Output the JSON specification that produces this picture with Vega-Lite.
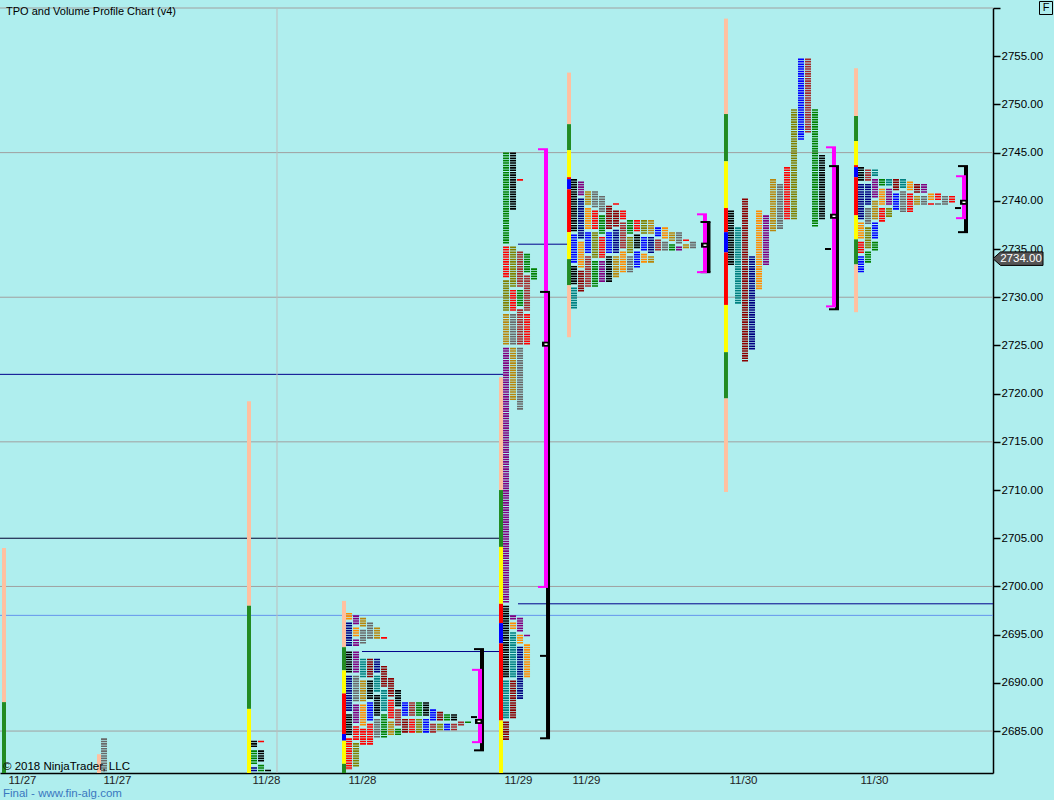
{
"$schema": "https://vega.github.io/schema/vega-lite/v6.json",
"width": 993, "height": 765,
"autosize": {"type": "none"},
"padding": {"left": 0, "top": 8, "right": 61, "bottom": 27},
"background": "#AFEEEE",
"config": {"view": {"stroke": null, "fill": "#AFEEEE"}, "font": "Liberation Sans"},
"datasets": {
"hlines": [
{"x": 0, "x2": 141.857, "hi": 2760, "k": "grid"},
{"x": 0, "x2": 141.857, "hi": 2745, "k": "grid"},
{"x": 0, "x2": 141.857, "hi": 2730, "k": "grid"},
{"x": 0, "x2": 141.857, "hi": 2715, "k": "grid"},
{"x": 0, "x2": 141.857, "hi": 2700, "k": "grid"},
{"x": 0, "x2": 141.857, "hi": 2685, "k": "grid"},
{"x": 0, "x2": 141.857, "hi": 2697.0, "k": "ref"},
{"x": 0, "x2": 71.86, "hi": 2722.0, "k": "navy"},
{"x": 0, "x2": 71.86, "hi": 2705.0, "k": "dark"},
{"x": 74.0, "x2": 141.857, "hi": 2698.2, "k": "navy"},
{"x": 74.0, "x2": 81.43, "hi": 2735.5, "k": "navy"},
{"x": 51.71, "x2": 71.71, "hi": 2693.25, "k": "navy"}
],
"vlines": [{"x": 39.57, "hi": 2760, "lo": 2680.65, "k": "vgrid"}],
"sess": [
{"x": 0.57, "hi": 2704.0, "lo": 2688.0, "k": "tail"},
{"x": 0.57, "hi": 2688.0, "lo": 2680.65, "k": "ib"},
{"x": 14.14, "hi": 2682.6, "lo": 2680.65, "k": "tail"},
{"x": 35.57, "hi": 2719.2, "lo": 2698.0, "k": "tail"},
{"x": 35.57, "hi": 2698.0, "lo": 2687.3, "k": "ib"},
{"x": 35.57, "hi": 2687.3, "lo": 2680.65, "k": "ext"},
{"x": 49.14, "hi": 2698.5, "lo": 2693.7, "k": "tail"},
{"x": 49.14, "hi": 2693.7, "lo": 2691.3, "k": "ib"},
{"x": 49.14, "hi": 2691.3, "lo": 2688.9, "k": "ext"},
{"x": 49.14, "hi": 2688.9, "lo": 2684.7, "k": "va"},
{"x": 49.14, "hi": 2684.7, "lo": 2684.0, "k": "poc"},
{"x": 49.14, "hi": 2684.0, "lo": 2681.6, "k": "ext"},
{"x": 49.14, "hi": 2681.6, "lo": 2680.65, "k": "ib"},
{"x": 71.57, "hi": 2721.7, "lo": 2710.0, "k": "tail"},
{"x": 71.57, "hi": 2710.0, "lo": 2704.1, "k": "ib"},
{"x": 71.57, "hi": 2704.1, "lo": 2698.2, "k": "ext"},
{"x": 71.57, "hi": 2698.2, "lo": 2696.2, "k": "va"},
{"x": 71.57, "hi": 2696.2, "lo": 2694.1, "k": "poc"},
{"x": 71.57, "hi": 2694.1, "lo": 2686.1, "k": "va"},
{"x": 71.57, "hi": 2686.1, "lo": 2680.65, "k": "ext"},
{"x": 81.29, "hi": 2753.3, "lo": 2747.95, "k": "tail"},
{"x": 81.29, "hi": 2747.95, "lo": 2745.25, "k": "ib"},
{"x": 81.29, "hi": 2745.25, "lo": 2742.45, "k": "ext"},
{"x": 81.29, "hi": 2742.45, "lo": 2742.25, "k": "va"},
{"x": 81.29, "hi": 2742.25, "lo": 2741.2, "k": "poc"},
{"x": 81.29, "hi": 2741.2, "lo": 2736.75, "k": "va"},
{"x": 81.29, "hi": 2736.75, "lo": 2733.95, "k": "ext"},
{"x": 81.29, "hi": 2733.95, "lo": 2731.25, "k": "ib"},
{"x": 81.29, "hi": 2731.25, "lo": 2725.85, "k": "tail"},
{"x": 103.71, "hi": 2758.9, "lo": 2749.0, "k": "tail"},
{"x": 103.71, "hi": 2749.0, "lo": 2744.1, "k": "ib"},
{"x": 103.71, "hi": 2744.1, "lo": 2739.25, "k": "ext"},
{"x": 103.71, "hi": 2739.25, "lo": 2736.75, "k": "va"},
{"x": 103.71, "hi": 2736.75, "lo": 2734.65, "k": "poc"},
{"x": 103.71, "hi": 2734.65, "lo": 2729.2, "k": "va"},
{"x": 103.71, "hi": 2729.2, "lo": 2724.3, "k": "ext"},
{"x": 103.71, "hi": 2724.3, "lo": 2719.5, "k": "ib"},
{"x": 103.71, "hi": 2719.5, "lo": 2709.8, "k": "tail"},
{"x": 122.29, "hi": 2753.75, "lo": 2748.8, "k": "tail"},
{"x": 122.29, "hi": 2748.8, "lo": 2746.2, "k": "ib"},
{"x": 122.29, "hi": 2746.2, "lo": 2743.7, "k": "ext"},
{"x": 122.29, "hi": 2743.7, "lo": 2743.5, "k": "va"},
{"x": 122.29, "hi": 2743.5, "lo": 2742.45, "k": "poc"},
{"x": 122.29, "hi": 2742.45, "lo": 2738.5, "k": "va"},
{"x": 122.29, "hi": 2738.5, "lo": 2736.0, "k": "ext"},
{"x": 122.29, "hi": 2736.0, "lo": 2733.4, "k": "ib"},
{"x": 122.29, "hi": 2733.4, "lo": 2728.45, "k": "tail"}
],
"tpo": [
{"x": 14.86, "hi": 2684.25, "lo": 2680.75, "k": "G"},
{"x": 36.29, "hi": 2684.0, "lo": 2683.25, "k": "B"},
{"x": 36.29, "hi": 2683.0, "lo": 2681.5, "k": "M"},
{"x": 36.29, "hi": 2681.25, "lo": 2680.75, "k": "A"},
{"x": 37.29, "hi": 2684.0, "lo": 2683.75, "k": "J"},
{"x": 37.29, "hi": 2683.0, "lo": 2681.75, "k": "B"},
{"x": 37.29, "hi": 2681.5, "lo": 2680.75, "k": "M"},
{"x": 38.29, "hi": 2681.0, "lo": 2680.75, "k": "B"},

{"x": 49.86, "hi": 2697.25, "lo": 2696.5, "k": "C"},
{"x": 49.86, "hi": 2696.25, "lo": 2693.75, "k": "A"},
{"x": 49.86, "hi": 2693.25, "lo": 2691.0, "k": "B"},
{"x": 49.86, "hi": 2690.75, "lo": 2687.0, "k": "A"},
{"x": 49.86, "hi": 2686.75, "lo": 2684.5, "k": "B"},
{"x": 49.86, "hi": 2684.25, "lo": 2681.0, "k": "J"},
{"x": 50.86, "hi": 2697.0, "lo": 2696.0, "k": "D"},
{"x": 50.86, "hi": 2695.75, "lo": 2694.75, "k": "C"},
{"x": 50.86, "hi": 2694.5, "lo": 2693.75, "k": "D"},
{"x": 50.86, "hi": 2693.25, "lo": 2691.0, "k": "D"},
{"x": 50.86, "hi": 2690.75, "lo": 2688.0, "k": "G"},
{"x": 50.86, "hi": 2687.75, "lo": 2685.75, "k": "D"},
{"x": 50.86, "hi": 2685.5, "lo": 2684.0, "k": "J"},
{"x": 50.86, "hi": 2683.75, "lo": 2681.25, "k": "H"},
{"x": 51.86, "hi": 2696.75, "lo": 2695.75, "k": "I"},
{"x": 51.86, "hi": 2695.5, "lo": 2694.0, "k": "G"},
{"x": 51.86, "hi": 2692.5, "lo": 2690.5, "k": "E"},
{"x": 51.86, "hi": 2690.25, "lo": 2688.0, "k": "I"},
{"x": 51.86, "hi": 2687.75, "lo": 2685.5, "k": "C"},
{"x": 51.86, "hi": 2685.25, "lo": 2683.5, "k": "J"},
{"x": 52.86, "hi": 2696.25, "lo": 2694.5, "k": "G"},
{"x": 52.86, "hi": 2692.5, "lo": 2690.5, "k": "F"},
{"x": 52.86, "hi": 2690.25, "lo": 2688.25, "k": "B"},
{"x": 52.86, "hi": 2688.0, "lo": 2686.0, "k": "K"},
{"x": 52.86, "hi": 2685.75, "lo": 2683.5, "k": "J"},
{"x": 53.86, "hi": 2695.75, "lo": 2694.5, "k": "I"},
{"x": 53.86, "hi": 2692.5, "lo": 2691.0, "k": "A"},
{"x": 53.86, "hi": 2690.75, "lo": 2689.0, "k": "E"},
{"x": 53.86, "hi": 2688.75, "lo": 2686.5, "k": "B"},
{"x": 53.86, "hi": 2686.25, "lo": 2684.25, "k": "G"},
{"x": 54.86, "hi": 2694.75, "lo": 2694.5, "k": "J"},
{"x": 54.86, "hi": 2691.75, "lo": 2689.5, "k": "F"},
{"x": 54.86, "hi": 2689.25, "lo": 2687.0, "k": "E"},
{"x": 54.86, "hi": 2686.75, "lo": 2684.25, "k": "M"},
{"x": 55.86, "hi": 2690.5, "lo": 2688.5, "k": "F"},
{"x": 55.86, "hi": 2688.25, "lo": 2686.25, "k": "J"},
{"x": 55.86, "hi": 2686.0, "lo": 2684.5, "k": "I"},
{"x": 56.86, "hi": 2689.25, "lo": 2687.5, "k": "B"},
{"x": 56.86, "hi": 2687.25, "lo": 2685.5, "k": "L"},
{"x": 56.86, "hi": 2685.25, "lo": 2684.5, "k": "M"},
{"x": 57.86, "hi": 2688.0, "lo": 2686.5, "k": "K"},
{"x": 57.86, "hi": 2686.25, "lo": 2684.75, "k": "F"},
{"x": 58.86, "hi": 2688.0, "lo": 2686.5, "k": "L"},
{"x": 58.86, "hi": 2686.25, "lo": 2684.75, "k": "J"},
{"x": 59.86, "hi": 2688.0, "lo": 2686.5, "k": "M"},
{"x": 59.86, "hi": 2686.25, "lo": 2684.75, "k": "H"},
{"x": 60.86, "hi": 2688.0, "lo": 2686.5, "k": "B"},
{"x": 60.86, "hi": 2686.25, "lo": 2684.75, "k": "K"},
{"x": 61.86, "hi": 2687.25, "lo": 2686.0, "k": "K"},
{"x": 61.86, "hi": 2685.75, "lo": 2684.75, "k": "L"},
{"x": 62.86, "hi": 2687.0, "lo": 2686.0, "k": "F"},
{"x": 62.86, "hi": 2685.75, "lo": 2685.0, "k": "H"},
{"x": 63.86, "hi": 2686.75, "lo": 2686.0, "k": "M"},
{"x": 63.86, "hi": 2685.75, "lo": 2685.0, "k": "K"},
{"x": 64.86, "hi": 2686.75, "lo": 2686.0, "k": "B"},
{"x": 64.86, "hi": 2685.75, "lo": 2685.0, "k": "L"},
{"x": 65.86, "hi": 2686.0, "lo": 2685.5, "k": "L"},
{"x": 66.86, "hi": 2686.0, "lo": 2685.75, "k": "M"},

{"x": 72.29, "hi": 2745.0, "lo": 2735.5, "k": "M"},
{"x": 72.29, "hi": 2735.25, "lo": 2732.0, "k": "J"},
{"x": 72.29, "hi": 2731.75, "lo": 2728.5, "k": "H"},
{"x": 72.29, "hi": 2728.25, "lo": 2725.0, "k": "I"},
{"x": 72.29, "hi": 2724.75, "lo": 2698.25, "k": "D"},
{"x": 72.29, "hi": 2698.0, "lo": 2690.5, "k": "B"},
{"x": 72.29, "hi": 2690.25, "lo": 2686.25, "k": "E"},
{"x": 72.29, "hi": 2686.0, "lo": 2684.0, "k": "F"},
{"x": 73.29, "hi": 2745.0, "lo": 2739.0, "k": "B"},
{"x": 73.29, "hi": 2735.25, "lo": 2731.0, "k": "H"},
{"x": 73.29, "hi": 2730.75, "lo": 2728.5, "k": "J"},
{"x": 73.29, "hi": 2728.25, "lo": 2725.0, "k": "G"},
{"x": 73.29, "hi": 2724.75, "lo": 2719.25, "k": "I"},
{"x": 73.29, "hi": 2697.0, "lo": 2696.5, "k": "D"},
{"x": 73.29, "hi": 2696.25, "lo": 2695.5, "k": "C"},
{"x": 73.29, "hi": 2695.25, "lo": 2690.5, "k": "E"},
{"x": 73.29, "hi": 2690.25, "lo": 2686.25, "k": "F"},
{"x": 74.29, "hi": 2742.25, "lo": 2742.0, "k": "J"},
{"x": 74.29, "hi": 2734.75, "lo": 2731.0, "k": "L"},
{"x": 74.29, "hi": 2730.75, "lo": 2729.0, "k": "M"},
{"x": 74.29, "hi": 2728.75, "lo": 2725.0, "k": "L"},
{"x": 74.29, "hi": 2724.75, "lo": 2718.25, "k": "G"},
{"x": 74.29, "hi": 2696.75, "lo": 2695.25, "k": "D"},
{"x": 74.29, "hi": 2695.0, "lo": 2694.0, "k": "C"},
{"x": 74.29, "hi": 2693.75, "lo": 2688.25, "k": "A"},
{"x": 75.29, "hi": 2734.5, "lo": 2732.5, "k": "M"},
{"x": 75.29, "hi": 2732.25, "lo": 2728.5, "k": "L"},
{"x": 75.29, "hi": 2728.25, "lo": 2725.0, "k": "J"},
{"x": 75.29, "hi": 2695.0, "lo": 2694.75, "k": "D"},
{"x": 75.29, "hi": 2694.0, "lo": 2690.5, "k": "C"},
{"x": 76.29, "hi": 2733.0, "lo": 2731.75, "k": "M"},

{"x": 82, "hi": 2742.25, "lo": 2736.75, "k": "B"},
{"x": 82, "hi": 2736.5, "lo": 2733.5, "k": "K"},
{"x": 82, "hi": 2733.25, "lo": 2731.25, "k": "B"},
{"x": 82, "hi": 2731.0, "lo": 2728.75, "k": "E"},
{"x": 83, "hi": 2742.0, "lo": 2740.5, "k": "D"},
{"x": 83, "hi": 2740.25, "lo": 2736.0, "k": "A"},
{"x": 83, "hi": 2735.75, "lo": 2733.0, "k": "C"},
{"x": 83, "hi": 2732.75, "lo": 2730.5, "k": "F"},
{"x": 84, "hi": 2741.0, "lo": 2739.5, "k": "I"},
{"x": 84, "hi": 2739.25, "lo": 2737.0, "k": "C"},
{"x": 84, "hi": 2736.75, "lo": 2734.5, "k": "K"},
{"x": 84, "hi": 2734.25, "lo": 2731.0, "k": "L"},
{"x": 85, "hi": 2741.0, "lo": 2739.25, "k": "G"},
{"x": 85, "hi": 2739.0, "lo": 2737.0, "k": "J"},
{"x": 85, "hi": 2736.75, "lo": 2734.0, "k": "H"},
{"x": 85, "hi": 2733.75, "lo": 2731.0, "k": "M"},
{"x": 86, "hi": 2740.5, "lo": 2738.75, "k": "G"},
{"x": 86, "hi": 2738.5, "lo": 2736.5, "k": "M"},
{"x": 86, "hi": 2736.25, "lo": 2734.0, "k": "J"},
{"x": 86, "hi": 2733.75, "lo": 2731.5, "k": "D"},
{"x": 87, "hi": 2739.5, "lo": 2737.0, "k": "F"},
{"x": 87, "hi": 2736.75, "lo": 2734.5, "k": "K"},
{"x": 87, "hi": 2734.25, "lo": 2731.5, "k": "B"},
{"x": 88, "hi": 2739.75, "lo": 2739.5, "k": "J"},
{"x": 88, "hi": 2739.0, "lo": 2737.25, "k": "F"},
{"x": 88, "hi": 2737.0, "lo": 2734.5, "k": "A"},
{"x": 88, "hi": 2734.25, "lo": 2732.0, "k": "I"},
{"x": 89, "hi": 2739.0, "lo": 2738.0, "k": "J"},
{"x": 89, "hi": 2737.75, "lo": 2735.0, "k": "L"},
{"x": 89, "hi": 2734.75, "lo": 2732.5, "k": "C"},
{"x": 90, "hi": 2738.0, "lo": 2736.5, "k": "M"},
{"x": 90, "hi": 2736.25, "lo": 2734.5, "k": "H"},
{"x": 90, "hi": 2734.25, "lo": 2732.5, "k": "G"},
{"x": 91, "hi": 2738.0, "lo": 2736.75, "k": "J"},
{"x": 91, "hi": 2736.5, "lo": 2735.0, "k": "B"},
{"x": 91, "hi": 2734.75, "lo": 2733.0, "k": "K"},
{"x": 92, "hi": 2738.0, "lo": 2736.5, "k": "H"},
{"x": 92, "hi": 2736.25, "lo": 2734.75, "k": "K"},
{"x": 92, "hi": 2734.5, "lo": 2733.5, "k": "C"},
{"x": 93, "hi": 2738.0, "lo": 2736.5, "k": "I"},
{"x": 93, "hi": 2736.25, "lo": 2734.5, "k": "A"},
{"x": 93, "hi": 2734.25, "lo": 2733.5, "k": "I"},
{"x": 94, "hi": 2737.25, "lo": 2736.25, "k": "K"},
{"x": 94, "hi": 2736.0, "lo": 2734.75, "k": "L"},
{"x": 95, "hi": 2737.25, "lo": 2736.0, "k": "C"},
{"x": 95, "hi": 2735.75, "lo": 2734.75, "k": "G"},
{"x": 96, "hi": 2736.75, "lo": 2735.75, "k": "I"},
{"x": 96, "hi": 2735.5, "lo": 2734.75, "k": "M"},
{"x": 97, "hi": 2736.75, "lo": 2735.5, "k": "G"},
{"x": 97, "hi": 2735.25, "lo": 2734.75, "k": "D"},
{"x": 98, "hi": 2736.0, "lo": 2735.75, "k": "J"},
{"x": 98, "hi": 2735.5, "lo": 2735.0, "k": "I"},
{"x": 99, "hi": 2735.75, "lo": 2735.0, "k": "G"},

{"x": 104.43, "hi": 2739.0, "lo": 2733.25, "k": "B"},
{"x": 105.43, "hi": 2737.25, "lo": 2729.25, "k": "E"},
{"x": 106.43, "hi": 2740.25, "lo": 2723.25, "k": "F"},
{"x": 107.43, "hi": 2734.25, "lo": 2724.5, "k": "A"},
{"x": 108.43, "hi": 2739.0, "lo": 2730.75, "k": "C"},
{"x": 109.43, "hi": 2738.5, "lo": 2733.25, "k": "D"},
{"x": 110.43, "hi": 2742.25, "lo": 2736.75, "k": "I"},
{"x": 111.43, "hi": 2741.75, "lo": 2737.0, "k": "G"},
{"x": 112.43, "hi": 2743.5, "lo": 2738.0, "k": "J"},
{"x": 113.43, "hi": 2749.5, "lo": 2738.0, "k": "H"},
{"x": 114.43, "hi": 2754.75, "lo": 2746.25, "k": "K"},
{"x": 115.43, "hi": 2754.75, "lo": 2747.0, "k": "L"},
{"x": 116.43, "hi": 2749.5, "lo": 2737.25, "k": "M"},
{"x": 117.43, "hi": 2744.75, "lo": 2738.0, "k": "B"},

{"x": 123, "hi": 2743.5, "lo": 2742.0, "k": "B"},
{"x": 123, "hi": 2741.75, "lo": 2738.0, "k": "A"},
{"x": 123, "hi": 2737.75, "lo": 2736.0, "k": "C"},
{"x": 123, "hi": 2735.75, "lo": 2734.5, "k": "J"},
{"x": 123, "hi": 2734.25, "lo": 2732.5, "k": "K"},
{"x": 124, "hi": 2743.25, "lo": 2742.0, "k": "L"},
{"x": 124, "hi": 2741.75, "lo": 2739.5, "k": "A"},
{"x": 124, "hi": 2739.25, "lo": 2737.5, "k": "G"},
{"x": 124, "hi": 2737.25, "lo": 2735.0, "k": "H"},
{"x": 124, "hi": 2734.75, "lo": 2733.5, "k": "M"},
{"x": 125, "hi": 2743.25, "lo": 2742.5, "k": "E"},
{"x": 125, "hi": 2742.25, "lo": 2740.25, "k": "D"},
{"x": 125, "hi": 2740.0, "lo": 2738.0, "k": "I"},
{"x": 125, "hi": 2737.75, "lo": 2736.0, "k": "K"},
{"x": 125, "hi": 2735.75, "lo": 2734.75, "k": "M"},
{"x": 126, "hi": 2742.25, "lo": 2741.5, "k": "M"},
{"x": 126, "hi": 2741.25, "lo": 2739.5, "k": "C"},
{"x": 126, "hi": 2739.25, "lo": 2737.75, "k": "J"},
{"x": 127, "hi": 2742.25, "lo": 2741.5, "k": "E"},
{"x": 127, "hi": 2741.25, "lo": 2739.5, "k": "D"},
{"x": 127, "hi": 2739.25, "lo": 2738.25, "k": "H"},
{"x": 128, "hi": 2742.25, "lo": 2741.0, "k": "F"},
{"x": 128, "hi": 2740.75, "lo": 2739.0, "k": "K"},
{"x": 129, "hi": 2742.25, "lo": 2741.25, "k": "E"},
{"x": 129, "hi": 2741.0, "lo": 2738.75, "k": "G"},
{"x": 130, "hi": 2742.0, "lo": 2741.0, "k": "C"},
{"x": 130, "hi": 2740.75, "lo": 2738.75, "k": "J"},
{"x": 131, "hi": 2741.75, "lo": 2740.75, "k": "F"},
{"x": 131, "hi": 2740.5, "lo": 2739.5, "k": "I"},
{"x": 132, "hi": 2741.75, "lo": 2740.75, "k": "D"},
{"x": 132, "hi": 2740.5, "lo": 2739.5, "k": "G"},
{"x": 133, "hi": 2740.75, "lo": 2740.0, "k": "C"},
{"x": 133, "hi": 2739.75, "lo": 2739.5, "k": "J"},
{"x": 134, "hi": 2740.75, "lo": 2740.0, "k": "J"},
{"x": 134, "hi": 2739.75, "lo": 2739.5, "k": "G"},
{"x": 135, "hi": 2740.5, "lo": 2739.5, "k": "G"},
{"x": 136, "hi": 2740.5, "lo": 2739.75, "k": "J"}
],
"brk": [
{"x": 68.86, "hi": 2693.5, "lo": 2683.0, "k": "rng"},
{"x": 68.57, "hi": 2691.35, "lo": 2683.85, "k": "vab"},
{"x": 78.29, "hi": 2730.55, "lo": 2684.25, "k": "rng"},
{"x": 78.0, "hi": 2745.35, "lo": 2699.95, "k": "vab"},
{"x": 101.21, "hi": 2737.8, "lo": 2732.6, "k": "rng"},
{"x": 100.71, "hi": 2738.6, "lo": 2732.6, "k": "vab"},
{"x": 119.57, "hi": 2743.6, "lo": 2728.75, "k": "rng"},
{"x": 119.14, "hi": 2745.55, "lo": 2729.05, "k": "vab"},
{"x": 138.0, "hi": 2743.6, "lo": 2736.75, "k": "rng"},
{"x": 137.71, "hi": 2742.55, "lo": 2738.2, "k": "vab"}
],
"poc": [
{"x": 68.43, "hi": 2686.0},
{"x": 78.0, "hi": 2725.13},
{"x": 100.71, "hi": 2735.4},
{"x": 119.14, "hi": 2738.4},
{"x": 137.71, "hi": 2739.85}
],
"mid": [
{"x": 68.0, "hi": 2686.45},
{"x": 77.86, "hi": 2692.8},
{"x": 118.57, "hi": 2735.0},
{"x": 137.14, "hi": 2739.25}
]
},
"layer": [
{
"encoding": {
"x": {"field": "x", "type": "quantitative",
 "scale": {"domain": [0, 141.857], "nice": false, "zero": false},
 "axis": {"orient": "bottom", "title": null, "values": [3.14, 16.71, 38, 51.71, 74, 83.71, 106.14, 124.86],
  "labelExpr": "datum.value < 30 ? '11/27' : datum.value < 60 ? '11/28' : datum.value < 90 ? '11/29' : '11/30'",
  "ticks": false, "grid": false, "domainColor": "#000000", "domainWidth": 1.5,
  "labelFont": "Liberation Sans", "labelFontSize": 11.5, "labelColor": "#222222",
  "labelPadding": 1, "labelBound": false, "labelOverlap": false, "labelFlush": false}},
"y": {"field": "hi", "type": "quantitative",
 "scale": {"domain": [2680.65, 2760], "nice": false, "zero": false},
 "axis": {"orient": "right", "title": null,
  "values": [2685, 2690, 2695, 2700, 2705, 2710, 2715, 2720, 2725, 2730, 2735, 2740, 2745, 2750, 2755, 2760],
  "format": ".2f", "labelExpr": "datum.value > 2759 ? '' : datum.label",
  "grid": false, "tickSize": 7, "tickColor": "#000000", "tickWidth": 1.5,
  "domainColor": "#000000", "domainWidth": 1.5, "labelPadding": 1,
  "labelFont": "Liberation Sans", "labelFontSize": 11.5, "labelColor": "#000000",
  "labelBound": false, "labelFlush": false, "labelOverlap": false}},
"color": {"field": "k", "type": "nominal", "legend": null,
 "scale": {"domain": ["A","B","C","D","E","F","G","H","I","J","K","L","M","tail","ib","ext","va","poc","grid","ref","navy","dark","vgrid","vab","rng"],
  "range": ["#000080","#000000","#FF8C00","#800080","#008080","#8B0000","#696969","#808000","#B8860B","#FF0000","#0000FF","#A52A2A","#008000","#FFC0A0","#228B22","#FFFF00","#FF0000","#0000FF","#A0A0A0","#6495ED","#00008B","#000030","#BEBEBE","#FF00FF","#000000"]}}
},
"layer": [
{"data": {"name": "hlines"}, "mark": {"type": "rule", "strokeWidth": 1},
 "encoding": {"x2": {"field": "x2"}}},
{"data": {"name": "vlines"}, "mark": {"type": "rule", "strokeWidth": 1},
 "encoding": {"y2": {"field": "lo"}}},
{"data": {"name": "sess"}, "mark": {"type": "rule", "strokeWidth": 4, "strokeCap": "butt"},
 "encoding": {"y2": {"field": "lo"}}},
{"data": {"name": "tpo"}, "mark": {"type": "rule", "strokeWidth": 6, "strokeCap": "butt", "strokeDash": [1.6, 0.81]},
 "encoding": {"y2": {"field": "lo"}}},
{"data": {"name": "brk"}, "mark": {"type": "rule", "strokeWidth": 4, "strokeCap": "butt"},
 "encoding": {"y2": {"field": "lo"}}},
{"data": {"name": "brk"}, "mark": {"type": "tick", "orient": "horizontal", "size": 10, "thickness": 2, "xOffset": -3, "opacity": 1}},
{"data": {"name": "brk"}, "mark": {"type": "tick", "orient": "horizontal", "size": 10, "thickness": 2, "xOffset": -3, "opacity": 1},
 "encoding": {"y": {"field": "lo", "type": "quantitative"}}},
{"data": {"name": "mid"}, "mark": {"type": "tick", "orient": "horizontal", "size": 6, "thickness": 2, "xOffset": -2, "opacity": 1},
 "encoding": {"color": {"value": "#000000"}}},
{"data": {"name": "poc"}, "mark": {"type": "tick", "orient": "horizontal", "size": 8, "thickness": 5, "opacity": 1},
 "encoding": {"color": {"value": "#000000"}}},
{"data": {"name": "poc"}, "mark": {"type": "tick", "orient": "horizontal", "size": 3, "thickness": 1.5, "opacity": 1},
 "encoding": {"color": {"value": "#FFFFFF"}}},
{"data": {"values": [{"hi": 2734}]},
 "mark": {"type": "point", "shape": "M-1,0L-0.7,-0.27L1,-0.27L1,0.27L-0.7,0.27Z", "size": 2500, "filled": true, "stroke": "#000000", "strokeWidth": 1, "xOffset": 25, "opacity": 1},
 "encoding": {"x": {"value": "width"}, "color": {"value": "#555555"}}},
{"data": {"values": [{"hi": 2734}]},
 "mark": {"type": "text", "xOffset": 28, "align": "center", "baseline": "middle", "fontSize": 11.5, "font": "Liberation Sans"},
 "encoding": {"x": {"value": "width"}, "text": {"field": "hi", "type": "quantitative", "format": ".2f"}, "color": {"value": "#FFFFFF"}}}
]
},
{"data": {"values": [{"t": "F"}]},
 "mark": {"type": "point", "shape": "square", "size": 169, "filled": false, "stroke": "#000000", "strokeWidth": 1, "xOffset": 53, "opacity": 1},
 "encoding": {"x": {"value": "width"}, "y": {"value": 0}}},
{"data": {"values": [{"t": "F"}]},
 "mark": {"type": "text", "xOffset": 53, "align": "center", "baseline": "middle", "fontSize": 11, "font": "Liberation Sans", "color": "#000000"},
 "encoding": {"x": {"value": "width"}, "y": {"value": 0}, "text": {"field": "t"}}},
{"data": {"values": [{"t": "TPO and Volume Profile Chart (v4)"}]},
 "mark": {"type": "text", "align": "left", "baseline": "top", "dx": 6, "dy": -2, "fontSize": 11, "font": "Liberation Sans", "color": "#000000"},
 "encoding": {"x": {"value": 0}, "y": {"value": 0}, "text": {"field": "t"}}},
{"data": {"values": [{"t": "© 2018 NinjaTrader, LLC"}]},
 "mark": {"type": "text", "align": "left", "baseline": "bottom", "dx": 3, "dy": -1, "fontSize": 11.5, "font": "Liberation Sans", "color": "#000000"},
 "encoding": {"x": {"value": 0}, "y": {"value": "height"}, "text": {"field": "t"}}},
{"data": {"values": [{"t": "Final - www.fin-alg.com"}]},
 "mark": {"type": "text", "align": "left", "baseline": "middle", "dx": 3, "dy": 21, "fontSize": 11.5, "font": "Liberation Sans", "color": "#3A78C0"},
 "encoding": {"x": {"value": 0}, "y": {"value": "height"}, "text": {"field": "t"}}}
]
}
